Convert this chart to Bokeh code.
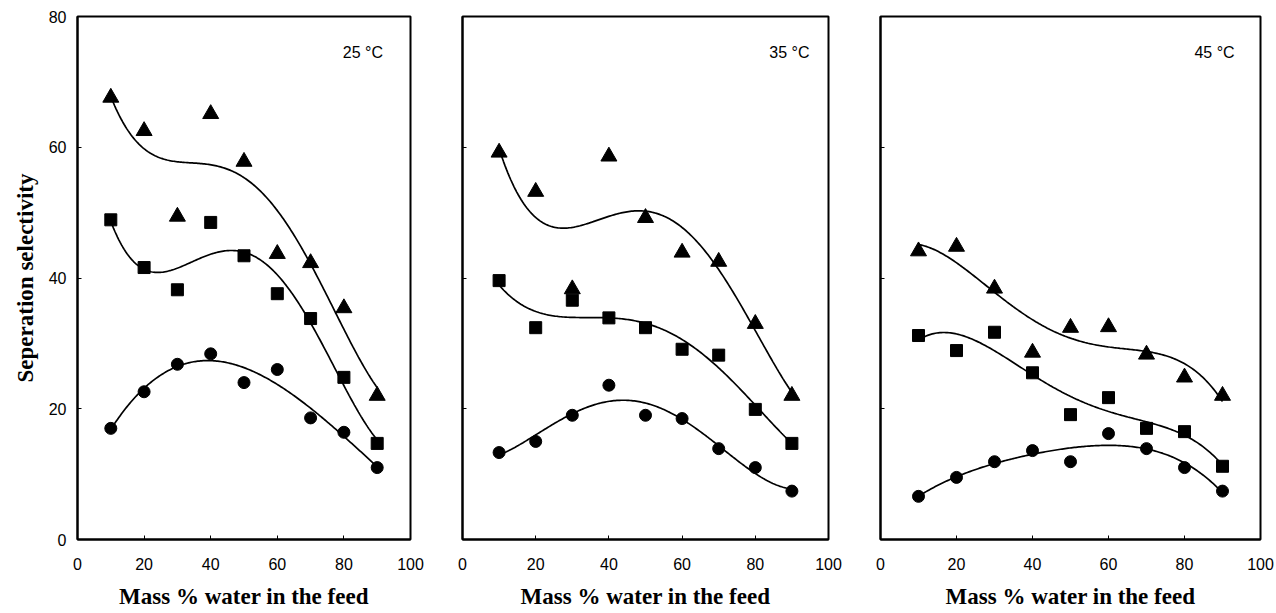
import numpy as np
from bokeh.plotting import figure
from bokeh.layouts import row
from bokeh.models import Range1d, Label, FixedTicker
from bokeh.embed import file_html
from bokeh.resources import INLINE

water = [10, 20, 30, 40, 50, 60, 70, 80, 90]

tri_25 = [67.6, 62.5, 49.4, 65.1, 57.8, 43.7, 42.3, 35.4, 22.0]
sq_25 = [48.9, 41.6, 38.2, 48.5, 43.4, 37.6, 33.8, 24.8, 14.7]
ci_25 = [17.0, 22.6, 26.8, 28.4, 24.0, 26.0, 18.6, 16.4, 11.0]

tri_35 = [59.2, 53.2, 38.3, 58.6, 49.2, 43.9, 42.5, 33.0, 22.0]
sq_35 = [39.6, 32.4, 36.6, 33.9, 32.4, 29.1, 28.2, 19.9, 14.7]
ci_35 = [13.3, 15.0, 19.0, 23.6, 19.0, 18.5, 13.9, 11.0, 7.4]

tri_45 = [44.1, 44.8, 38.4, 28.6, 32.4, 32.5, 28.3, 24.8, 22.0]
sq_45 = [31.2, 28.9, 31.7, 25.5, 19.1, 21.7, 17.0, 16.5, 11.2]
ci_45 = [6.6, 9.5, 11.9, 13.6, 11.9, 16.2, 13.9, 11.0, 7.4]

temps = ["25 °C", "35 °C", "45 °C"]
x_ticks = [0, 20, 40, 60, 80, 100]
y_ticks = [0, 20, 40, 60, 80]

panels = [
    (tri_25, sq_25, ci_25),
    (tri_35, sq_35, ci_35),
    (tri_45, sq_45, ci_45),
]

# layout: (fig width, left border, right border, label x)
geo = [(430, 77, 20, 85.7), (420, 32, 22, 89.3), (426, 30, 16, 87.9)]

SANS = "Liberation Sans"
SERIF = "Liberation Serif"

figs = []
for i, ((tri, sq, ci), (w, lb, rb, lx)) in enumerate(zip(panels, geo)):
    p = figure(width=w, height=613, output_backend="svg", toolbar_location=None,
               x_range=Range1d(0, 100), y_range=Range1d(0, 80),
               min_border_left=lb, min_border_right=rb,
               min_border_top=16, min_border_bottom=74)
    p.grid.visible = False
    p.outline_line_color = "black"
    p.outline_line_width = 2
    p.background_fill_color = "white"
    p.border_fill_color = "white"

    for ax in (p.xaxis[0], p.yaxis[0]):
        ax.axis_line_color = "black"
        ax.axis_line_width = 2
        ax.major_tick_in = 4
        ax.major_tick_out = 0
        ax.major_tick_line_width = 1
        ax.minor_tick_line_color = None
        ax.major_label_text_font = SANS
        ax.major_label_text_font_size = "16px"
        ax.major_label_text_color = "black"
        ax.axis_label_text_font = SERIF
        ax.axis_label_text_font_style = "bold"
        ax.axis_label_text_font_size = "23px"
        ax.axis_label_text_color = "black"

    p.xaxis.ticker = FixedTicker(ticks=x_ticks)
    p.yaxis.ticker = FixedTicker(ticks=y_ticks)
    p.xaxis.major_label_standoff = 18
    p.xaxis.axis_label = "Mass % water in the feed"
    p.xaxis.axis_label_standoff = 11
    if i == 0:
        p.yaxis.axis_label = "Seperation selectivity"
        p.yaxis.major_label_standoff = 11
        p.yaxis.axis_label_standoff = 8
    else:
        p.yaxis.major_label_overrides = {t: "" for t in y_ticks}
        p.yaxis.major_label_standoff = 0

    xs = np.linspace(10, 90, 200)
    for series in (tri, sq, ci):
        coef = np.polyfit(water, series, 4)
        p.line(xs, np.polyval(coef, xs), line_color="black", line_width=1.7)

    p.scatter(water, tri, marker="triangle", size=16, fill_color="black", line_color="black")
    p.scatter(water, sq, marker="square", size=12, fill_color="black", line_color="black")
    p.scatter(water, ci, marker="circle", size=12, fill_color="black", line_color="black")

    p.add_layout(Label(x=lx, y=74.5, text=temps[i], text_font=SANS, text_font_size="16px",
                       text_align="center", text_baseline="middle", text_color="black"))
    figs.append(p)

layout = row(*figs, spacing=0)
open("out.html", "w").write(file_html(layout, INLINE))
